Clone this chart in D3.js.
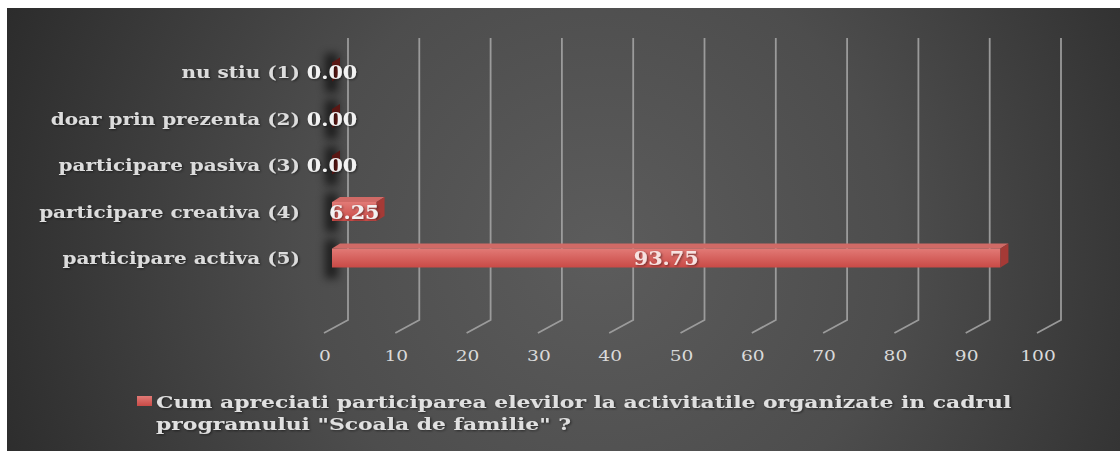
<!DOCTYPE html>
<html><head><meta charset="utf-8">
<script src="https://cdn.jsdelivr.net/npm/d3@7/dist/d3.min.js"></script>
<style>html,body{margin:0;padding:0;background:#fff;}svg{display:block;}</style>
</head><body>
<svg id="chart" width="1120" height="451"></svg>
<script>
const categories = ["nu stiu (1)", "doar prin prezenta (2)", "participare pasiva (3)", "participare creativa (4)", "participare activa (5)"];
const values = [0.00, 0.00, 0.00, 6.25, 93.75];
const tickValues = [0, 10, 20, 30, 40, 50, 60, 70, 80, 90, 100];
const seriesName = ["Cum apreciati participarea elevilor la activitatile organizate in cadrul", "programului \"Scoala de familie\" ?"];

const svg = d3.select("#chart");
const W = 1120, H = 451;
const defs = svg.append("defs");

const bg = defs.append("radialGradient").attr("id", "bg").attr("gradientUnits", "userSpaceOnUse")
  .attr("cx", 600).attr("cy", 250).attr("r", 660);
bg.append("stop").attr("offset", 0).attr("stop-color", "#5c5c5c");
bg.append("stop").attr("offset", 0.45).attr("stop-color", "#4d4d4d");
bg.append("stop").attr("offset", 1).attr("stop-color", "#2a2a2a");

const front = defs.append("linearGradient").attr("id", "front").attr("x1", 0).attr("y1", 0).attr("x2", 0).attr("y2", 1);
front.append("stop").attr("offset", 0).attr("stop-color", "#e27a76");
front.append("stop").attr("offset", 1).attr("stop-color", "#c94a46");

const blur = defs.append("filter").attr("id", "blur").attr("x", "-100%").attr("y", "-50%").attr("width", "300%").attr("height", "200%");
blur.append("feGaussianBlur").attr("stdDeviation", 4);

const tshadow = defs.append("filter").attr("id", "tsh").attr("x", "-20%").attr("y", "-20%").attr("width", "140%").attr("height", "140%");
tshadow.append("feDropShadow").attr("dx", 1).attr("dy", 1).attr("stdDeviation", 1).attr("flood-color", "#000").attr("flood-opacity", 0.5);

// background
svg.append("rect").attr("x", 7).attr("y", 8).attr("width", W - 7).attr("height", H - 8).attr("fill", "url(#bg)");

// scales
const xBack = d3.scaleLinear().domain([0, 100]).range([348, 1061]);
const depth = {dx: 24, dy: 13};            // back wall -> floor front
const barOff = {dx: 16};                   // back wall -> bar front
const xBar = v => xBack(v) - barOff.dx;
const y = d3.scalePoint().domain(categories).range([72, 258]);
const barH = 19;
const gridTop = 38, gridBottom = 320;

// gridlines (back wall + floor)
const grid = svg.append("g");
tickValues.forEach(t => {
  const gx = xBack(t);
  grid.append("path")
    .attr("d", `M${gx},${gridTop} L${gx},${gridBottom} L${gx - depth.dx},${gridBottom + depth.dy}`)
    .attr("fill", "none").attr("stroke", "#a3a3a3").attr("stroke-width", 1.8).attr("stroke-opacity", 0.9);
});

// tick labels
const tickG = svg.append("g");
tickValues.forEach(t => {
  tickG.append("text")
    .attr("transform", `translate(${xBack(t) - depth.dx + 1},361) scale(1.2,1)`)
    .attr("text-anchor", "middle")
    .attr("font-family", "DejaVu Serif").attr("font-size", 15.5)
    .attr("fill", "#dadada").text(t);
});

// bars
const d3x = 8, d3y = 5;
const bars = svg.append("g");
categories.forEach((c, i) => {
  const v = values[i];
  const yc = y(c), y0 = yc - barH / 2, y1 = yc + barH / 2;
  const x0 = xBar(0), x1 = xBar(v);
  // shadow
  bars.append("rect").attr("x", x0 - 7).attr("y", y0 - 9).attr("width", 13).attr("height", barH + 20)
    .attr("fill", "#000").attr("opacity", 0.6).attr("filter", "url(#blur)");
  if (v > 0) {
    bars.append("path").attr("d", `M${x0},${y0} L${x0 + d3x},${y0 - d3y} L${x1 + d3x},${y0 - d3y} L${x1},${y0} Z`).attr("fill", "#d06a66");
    bars.append("rect").attr("x", x0).attr("y", y0).attr("width", x1 - x0).attr("height", barH).attr("fill", "url(#front)");
  }
  bars.append("path").attr("d", `M${x1},${y0} L${x1 + d3x},${y0 - d3y} L${x1 + d3x},${y1 - d3y} L${x1},${y1} Z`)
    .attr("fill", v > 0 ? "#a53a36" : "#5a1714");
});

// data labels
const labG = svg.append("g");
categories.forEach((c, i) => {
  const v = values[i];
  const cx = (xBar(0) + xBar(v)) / 2;
  labG.append("text")
    .attr("transform", `translate(${cx},${y(c) + 7}) scale(1.12,1)`)
    .attr("text-anchor", "middle")
    .attr("font-family", "DejaVu Serif").attr("font-weight", "bold").attr("font-size", 18.5)
    .attr("fill", v > 50 ? "#f6e2e0" : "#f2f2f2").attr("filter", "url(#tsh)")
    .text(v.toFixed(2));
});

// category labels
const catG = svg.append("g");
categories.forEach(c => {
  catG.append("text")
    .attr("transform", `translate(300,${y(c) + 6}) scale(1.25,1)`)
    .attr("text-anchor", "end")
    .attr("font-family", "DejaVu Serif").attr("font-weight", "bold").attr("font-size", 16)
    .attr("fill", "#dcdcdc").attr("filter", "url(#tsh)")
    .text(c);
});

// legend
const leg = svg.append("g");
leg.append("rect").attr("x", 137).attr("y", 396).attr("width", 15).attr("height", 10).attr("fill", "url(#front)");
seriesName.forEach((s, i) => {
  leg.append("text")
    .attr("transform", `translate(156,${408 + i * 22}) scale(1.25,1)`)
    .attr("font-family", "DejaVu Serif").attr("font-weight", "bold").attr("font-size", 17.5)
    .attr("fill", "#e0e0e0").attr("filter", "url(#tsh)")
    .text(s);
});
</script>
</body></html>
